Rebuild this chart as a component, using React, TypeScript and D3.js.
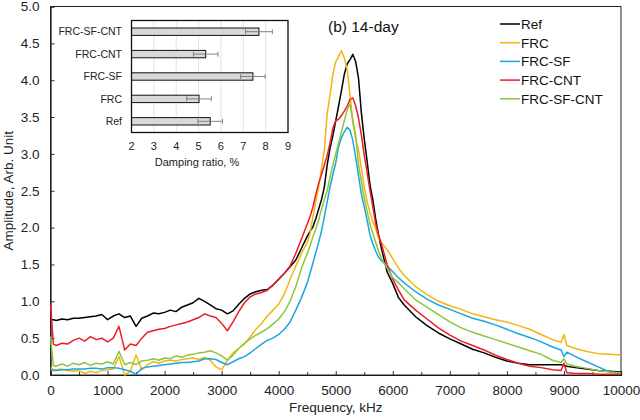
import { useEffect, useRef } from "react";
import * as d3 from "d3";

// frequency grid, kHz
const freq = [
  0, 50, 100, 200, 300, 400, 500, 600, 700, 800, 900, 1000, 1100, 1200, 1300, 1400, 1500, 1600, 1700, 1800, 1900,
  2000, 2100, 2200, 2300, 2400, 2500, 2600, 2700, 2800, 2900, 3000, 3100, 3200, 3300, 3400, 3500, 3600, 3700, 3800,
  3900, 4000, 4100, 4200, 4300, 4400, 4500,
  4550, 4600, 4650, 4700, 4750, 4800, 4850, 4900, 4950, 5000, 5050, 5100, 5150, 5200, 5250, 5300, 5350, 5400, 5450,
  5500, 5550, 5600, 5650, 5700, 5750, 5800,
  5900, 6000, 6100, 6200, 6400, 6600, 6800, 7000, 7200, 7400, 7600, 7800, 8000, 8200, 8400, 8600, 8800, 8950, 9000,
  9050, 9200, 9400, 9600, 9800, 10000,
];

const refAmp = [
  0.75, 0.75, 0.74, 0.76, 0.75, 0.77, 0.77, 0.78, 0.79, 0.8, 0.82, 0.75, 0.8, 0.83, 0.78, 0.8, 0.66, 0.77, 0.8, 0.84, 0.83,
  0.85, 0.88, 0.86, 0.92, 0.95, 0.98, 1.04, 1.0, 0.95, 0.9, 0.88, 0.83, 0.87, 0.96, 1.04, 1.1, 1.13, 1.15, 1.16,
  1.22, 1.3, 1.38, 1.47, 1.56, 1.72, 1.88,
  1.95, 2.01, 2.12, 2.25, 2.38, 2.55, 2.85, 3.08, 3.25, 3.45, 3.65, 3.86, 4.08, 4.22, 4.28, 4.35, 4.25, 4.02, 3.55,
  3.2, 2.9, 2.58, 2.38, 2.12, 1.9, 1.72,
  1.4, 1.24, 1.05, 0.95, 0.79, 0.67, 0.57, 0.49, 0.42, 0.35, 0.3, 0.24, 0.19, 0.16, 0.14, 0.14, 0.14, 0.14, 0.13,
  0.12, 0.1, 0.08, 0.06, 0.05, 0.04,
];

const frcAmp = [
  0.1, 0.08, 0.07, 0.08, 0.06, 0.05, 0.06, 0.02, 0.05, 0.03, 0.06, 0.07, 0.08, 0.25, 0.0, 0.05, 0.27, 0.07, 0.14, 0.18, 0.16,
  0.19, 0.2, 0.19, 0.21, 0.22, 0.23, 0.21, 0.24, 0.2, 0.11, 0.07, 0.2, 0.3, 0.36, 0.42, 0.52, 0.62, 0.7, 0.8,
  0.88, 0.96, 1.1, 1.3, 1.48, 1.65, 1.8,
  1.92, 2.15, 2.35, 2.55, 2.8, 3.05, 3.55, 3.8, 4.08, 4.25, 4.32, 4.4, 4.3, 4.15, 3.8, 3.42, 3.2, 3.05, 2.8,
  2.55, 2.35, 2.2, 2.08, 1.98, 1.86, 1.8,
  1.7, 1.58, 1.45, 1.35, 1.2, 1.09, 1.0, 0.94, 0.89, 0.83, 0.79, 0.75, 0.72, 0.67, 0.62, 0.55, 0.48, 0.44, 0.55,
  0.4, 0.36, 0.32, 0.29, 0.28, 0.27,
];

const frcSfAmp = [
  0.07, 0.06, 0.06, 0.07, 0.07, 0.08, 0.08, 0.08, 0.09, 0.09, 0.08, 0.1, 0.1, 0.09, 0.07, 0.05, 0.01, 0.09, 0.11, 0.12, 0.13,
  0.14, 0.15, 0.16, 0.17, 0.17, 0.18, 0.19, 0.22, 0.22, 0.21, 0.17, 0.14, 0.18, 0.22, 0.25, 0.3, 0.36, 0.42, 0.47,
  0.5, 0.55, 0.62, 0.72, 0.88, 1.05, 1.25,
  1.38, 1.52, 1.66, 1.8, 1.95, 2.15, 2.35, 2.55, 2.72, 2.88, 3.1, 3.22, 3.3, 3.36, 3.32, 3.18, 2.95, 2.7, 2.45,
  2.28, 2.1, 1.9, 1.78, 1.68, 1.6, 1.55,
  1.48, 1.4, 1.32, 1.25, 1.13, 1.03, 0.95, 0.89, 0.83, 0.77, 0.73, 0.68, 0.62, 0.56, 0.51, 0.45, 0.38, 0.34, 0.25,
  0.31, 0.25, 0.18, 0.11, 0.04, 0.02,
];

const frcCntAmp = [
  0.97, 0.42, 0.4, 0.43, 0.42, 0.47, 0.5, 0.46, 0.52, 0.48, 0.5, 0.45, 0.5, 0.66, 0.34, 0.42, 0.4, 0.5, 0.58, 0.6, 0.62,
  0.63, 0.66, 0.68, 0.7, 0.72, 0.75, 0.78, 0.83, 0.8, 0.78, 0.7, 0.6, 0.72, 0.86, 0.98, 1.06, 1.1, 1.12, 1.15,
  1.22, 1.3, 1.38, 1.48, 1.65, 1.85, 2.05,
  2.15, 2.28, 2.45, 2.6, 2.72, 2.85, 2.98, 3.15, 3.35, 3.45, 3.47, 3.52, 3.58, 3.65, 3.74, 3.76, 3.65, 3.48, 3.25,
  2.98, 2.75, 2.5, 2.28, 2.05, 1.9, 1.78,
  1.5, 1.3, 1.15, 1.02, 0.88, 0.76, 0.64, 0.54, 0.46, 0.4, 0.34, 0.27, 0.21, 0.16, 0.12, 0.1, 0.07, 0.06, 0.16,
  0.03, 0.02, 0.02, 0.01, 0.01, 0.01,
];

const frcSfCntAmp = [
  0.52, 0.13, 0.12, 0.15, 0.12, 0.16, 0.14, 0.17, 0.13, 0.16, 0.15, 0.18, 0.15, 0.32, 0.14, 0.17, 0.14, 0.19, 0.2, 0.22, 0.2,
  0.23, 0.22, 0.26, 0.24, 0.27, 0.28, 0.3, 0.31, 0.33, 0.3, 0.26, 0.2, 0.27, 0.36, 0.43, 0.49, 0.54, 0.58, 0.63,
  0.69, 0.76, 0.86, 1.0, 1.2, 1.45, 1.65,
  1.75, 1.88, 1.98, 2.1, 2.25, 2.38, 2.5, 2.68, 2.85, 3.0, 3.15, 3.3, 3.45, 3.6, 3.68, 3.45, 3.25, 2.85, 2.62,
  2.4, 2.22, 2.05, 1.92, 1.8, 1.68, 1.58,
  1.45, 1.32, 1.25, 1.17, 1.02, 0.92, 0.82, 0.72, 0.64, 0.58, 0.53, 0.48, 0.43, 0.38, 0.33, 0.28, 0.2, 0.17, 0.22,
  0.15, 0.12, 0.09, 0.06, 0.04, 0.03,
];

const seriesNames = ["Ref", "FRC", "FRC-SF", "FRC-CNT", "FRC-SF-CNT"];
const seriesColors = ["#000000", "#f5b50f", "#19a7e0", "#ee1d23", "#8cc640"];
const seriesValues = [refAmp, frcAmp, frcSfAmp, frcCntAmp, frcSfCntAmp];

// inset: damping ratio (top to bottom as drawn)
const insetCategories = ["FRC-SF-CNT", "FRC-CNT", "FRC-SF", "FRC", "Ref"];
const dampingRatio = [7.7, 5.32, 7.43, 5.02, 5.52];
const dampingError = [0.6, 0.55, 0.55, 0.55, 0.55];

const xTicks = d3.range(0, 10001, 1000);
const yTicks = d3.range(0, 5.01, 0.5);
const insetTicks = d3.range(2, 10, 1);

const FONT = "'Liberation Sans', Arial, sans-serif";

export default function App() {
  const svgRef = useRef<SVGSVGElement>(null);

  useEffect(() => {
    if (!svgRef.current) return;
    const svg = d3.select(svgRef.current);
    svg.selectAll("*").remove();

    const W = 640;
    const H = 420;
    svg.attr("width", W).attr("height", H).style("font-family", FONT);
    svg.append("rect").attr("width", W).attr("height", H).attr("fill", "#fff");

    const left = 50.5, right = 621, top = 6.5, bottom = 375;

    const x = d3.scaleLinear().domain([0, 10000]).range([left, right]);
    const y = d3.scaleLinear().domain([0, 5]).range([bottom, top]);

    // minor ticks
    svg.append("g")
      .attr("transform", `translate(0,${bottom})`)
      .call(d3.axisBottom(x).tickValues(d3.range(500, 10000, 1000)).tickSize(-3).tickFormat(() => ""))
      .call(g => g.select(".domain").remove())
      .selectAll("line").attr("stroke", "#333");

    // x axis
    const xAxis = svg.append("g")
      .attr("transform", `translate(0,${bottom})`)
      .call(d3.axisBottom(x).tickValues(xTicks).tickSize(-4).tickPadding(10).tickFormat(d3.format("d")));
    xAxis.selectAll("text").attr("font-size", 13.5).attr("fill", "#222").attr("font-family", FONT);
    xAxis.selectAll("line").attr("stroke", "#333");
    xAxis.select(".domain").attr("stroke", "#111").attr("stroke-width", 1.2);

    // y axis
    const yAxis = svg.append("g")
      .attr("transform", `translate(${left},0)`)
      .call(d3.axisLeft(y).tickValues(yTicks).tickSize(-4).tickPadding(11).tickFormat(d3.format(".1f")));
    yAxis.selectAll("text").attr("font-size", 13.5).attr("fill", "#222").attr("font-family", FONT);
    yAxis.selectAll("line").attr("stroke", "#333");
    yAxis.select(".domain").attr("stroke", "#111").attr("stroke-width", 1.2);

    // plot frame
    svg.append("rect")
      .attr("x", left).attr("y", top)
      .attr("width", right - left).attr("height", bottom - top)
      .attr("fill", "none").attr("stroke", "#222").attr("stroke-width", 1);

    // axis titles
    svg.append("text")
      .attr("x", (left + right) / 2).attr("y", 412)
      .attr("text-anchor", "middle").attr("font-size", 13.5).attr("fill", "#222")
      .text("Frequency, kHz");
    svg.append("text")
      .attr("transform", `translate(13,${(top + bottom) / 2}) rotate(-90)`)
      .attr("text-anchor", "middle").attr("font-size", 13.5).attr("fill", "#222")
      .text("Amplitude, Arb. Unit");

    // series lines
    const line = d3.line<number>()
      .x((_, i) => x(freq[i]))
      .y(d => y(d));

    seriesValues.forEach((vals, si) => {
      svg.append("path")
        .datum(vals)
        .attr("d", line)
        .attr("fill", "none")
        .attr("stroke", seriesColors[si])
        .attr("stroke-width", 1.5)
        .attr("stroke-linejoin", "round");
    });

    // annotation
    svg.append("text")
      .attr("x", 328).attr("y", 32)
      .attr("font-size", 15.5).attr("fill", "#111")
      .text("(b) 14-day");

    // legend
    const legend = svg.append("g");
    seriesNames.forEach((name, i) => {
      const ly = 24 + i * 18.7;
      legend.append("line")
        .attr("x1", 500).attr("x2", 520).attr("y1", ly).attr("y2", ly)
        .attr("stroke", seriesColors[i]).attr("stroke-width", 1.5);
      legend.append("text")
        .attr("x", 521).attr("y", ly).attr("dy", "0.36em")
        .attr("font-size", 13.5).attr("fill", "#111")
        .text(name);
    });

    // inset bar chart
    const ix = d3.scaleLinear().domain([2, 9]).range([131.5, 288]);
    const iy = d3.scaleBand<string>()
      .domain(insetCategories)
      .range([20.5, 132.5])
      .paddingInner(0.67)
      .paddingOuter(0.335);

    const inset = svg.append("g");
    inset.append("rect")
      .attr("x", ix(2)).attr("y", 20.5)
      .attr("width", ix(9) - ix(2)).attr("height", 112)
      .attr("fill", "#fff");

    inset.selectAll(".igrid")
      .data(insetTicks.slice(1))
      .enter()
      .append("line")
      .attr("x1", d => ix(d)).attr("x2", d => ix(d))
      .attr("y1", 20.5).attr("y2", 132.5)
      .attr("stroke", "#e3e3e3").attr("stroke-width", 1);

    inset.selectAll(".ibar")
      .data(insetCategories)
      .enter()
      .append("rect")
      .attr("x", ix(2))
      .attr("y", d => iy(d) || 0)
      .attr("width", (_, i) => ix(dampingRatio[i]) - ix(2))
      .attr("height", iy.bandwidth())
      .attr("fill", "#d9d9d9")
      .attr("stroke", "#111")
      .attr("stroke-width", 1);

    insetCategories.forEach((c, i) => {
      const cy = (iy(c) || 0) + iy.bandwidth() / 2;
      const x0 = ix(dampingRatio[i] - dampingError[i]);
      const x1 = ix(dampingRatio[i] + dampingError[i]);
      inset.append("line")
        .attr("x1", x0).attr("x2", x1).attr("y1", cy).attr("y2", cy)
        .attr("stroke", "#777").attr("stroke-width", 0.9);
      [x0, x1].forEach(xx => {
        inset.append("line")
          .attr("x1", xx).attr("x2", xx).attr("y1", cy - 2.5).attr("y2", cy + 2.5)
          .attr("stroke", "#777").attr("stroke-width", 0.9);
      });
      inset.append("text")
        .attr("x", 122).attr("y", cy).attr("dy", "0.36em")
        .attr("text-anchor", "end").attr("font-size", 10.5).attr("fill", "#222")
        .text(c);
    });

    inset.append("rect")
      .attr("x", ix(2)).attr("y", 20.5)
      .attr("width", ix(9) - ix(2)).attr("height", 112)
      .attr("fill", "none").attr("stroke", "#111").attr("stroke-width", 1.3);

    inset.selectAll(".itick")
      .data(insetTicks)
      .enter()
      .append("text")
      .attr("x", d => ix(d)).attr("y", 146).attr("dy", "0.36em")
      .attr("text-anchor", "middle").attr("font-size", 11).attr("fill", "#222")
      .text(d => d);

    inset.append("text")
      .attr("x", 197).attr("y", 162).attr("dy", "0.36em")
      .attr("text-anchor", "middle").attr("font-size", 11).attr("fill", "#222")
      .text("Damping ratio, %");
  }, []);

  return (
    <div style={{ position: "absolute", left: 0, top: 0 }}>
      <svg ref={svgRef} style={{ display: "block" }}></svg>
    </div>
  );
}
